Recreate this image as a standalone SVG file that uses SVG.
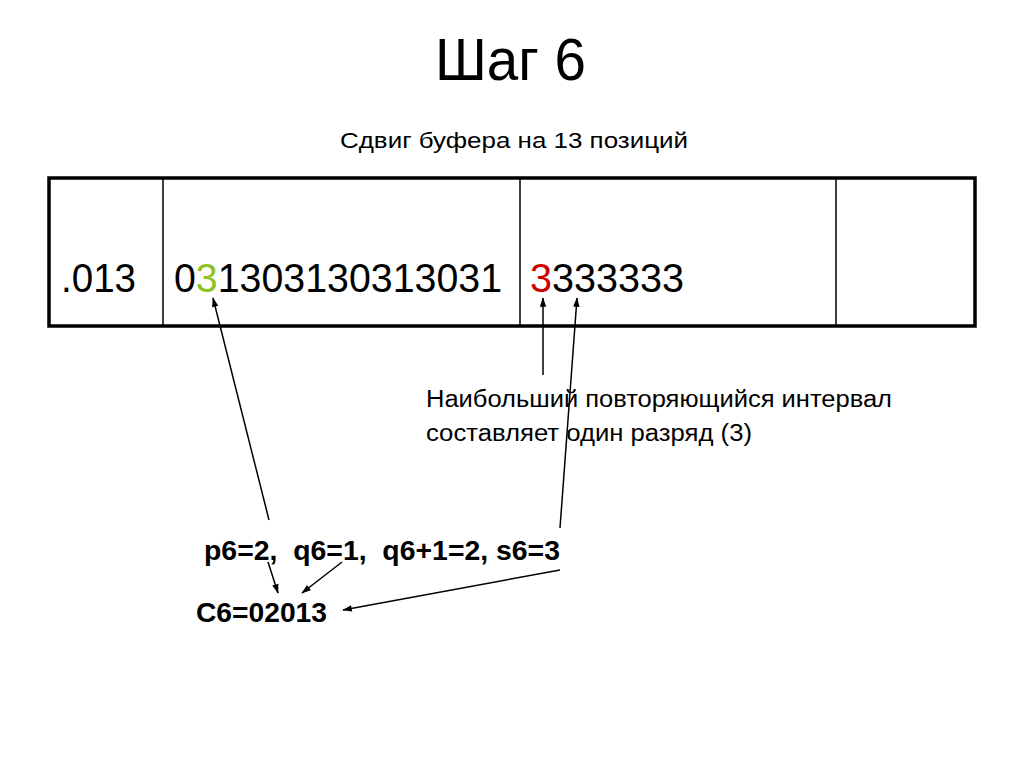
<svg xmlns="http://www.w3.org/2000/svg" width="1024" height="767" viewBox="0 0 1024 767">
<defs>
<style>
text{font-family:"Liberation Sans",Arial,sans-serif;fill:#000}
.big{font-size:40px}
.note{font-size:23px}
.b{font-size:28px;font-weight:bold}
.cn{stroke:#000;stroke-width:1.5;fill:none;marker-end:url(#ah)}
</style>
<marker id="ah" viewBox="0 0 12 10" refX="11" refY="5" markerWidth="11" markerHeight="8" markerUnits="userSpaceOnUse" orient="auto"><path d="M0,1 L12,5 L0,9 z" fill="#000"/></marker>
</defs>
<rect width="1024" height="767" fill="#fff"/>
<g id="title"><text x="435" y="80" font-size="60" textLength="151" lengthAdjust="spacingAndGlyphs">Шаг 6</text></g>
<g id="subtitle"><text x="340" y="148" font-size="22" textLength="348" lengthAdjust="spacingAndGlyphs">Сдвиг буфера на 13 позиций</text></g>
<g id="buffer">
<rect x="49" y="178" width="926" height="148" fill="none" stroke="#000" stroke-width="3.5"/>
<line x1="163" y1="178" x2="163" y2="326" stroke="#000" stroke-width="1.5"/>
<line x1="520" y1="178" x2="520" y2="326" stroke="#000" stroke-width="1.5"/>
<line x1="836" y1="178" x2="836" y2="326" stroke="#000" stroke-width="1.5"/>
<text class="big" x="61" y="292" textLength="75" lengthAdjust="spacingAndGlyphs">.013</text>
<text class="big" x="174" y="292" textLength="328" lengthAdjust="spacingAndGlyphs">0<tspan fill="#8dc21f">3</tspan>1303130313031</text>
<text class="big" x="530" y="292" textLength="154" lengthAdjust="spacingAndGlyphs"><tspan fill="#cc0000">3</tspan>333333</text>
</g>
<g id="note">
<text class="note" x="426" y="407" textLength="466" lengthAdjust="spacingAndGlyphs">Наибольший повторяющийся интервал</text>
<text class="note" x="426" y="441" textLength="326" lengthAdjust="spacingAndGlyphs">составляет один разряд (3)</text>
</g>
<g id="params"><text class="b" x="204" y="560" textLength="356" lengthAdjust="spacingAndGlyphs" xml:space="preserve">p6=2,  q6=1,  q6+1=2, s6=3</text></g>
<g id="result"><text x="196" y="622" font-size="27" font-weight="bold" textLength="131" lengthAdjust="spacingAndGlyphs">C6=02013</text></g>
<g id="connectors">
<line class="cn" x1="269" y1="520" x2="213" y2="298"/>
<line class="cn" x1="543" y1="375" x2="543" y2="298"/>
<line class="cn" x1="560" y1="528" x2="577" y2="298"/>
<line class="cn" x1="268" y1="562" x2="278" y2="593"/>
<line class="cn" x1="342" y1="562" x2="302" y2="593"/>
<line class="cn" x1="560" y1="570" x2="343" y2="610"/>
</g>
</svg>
